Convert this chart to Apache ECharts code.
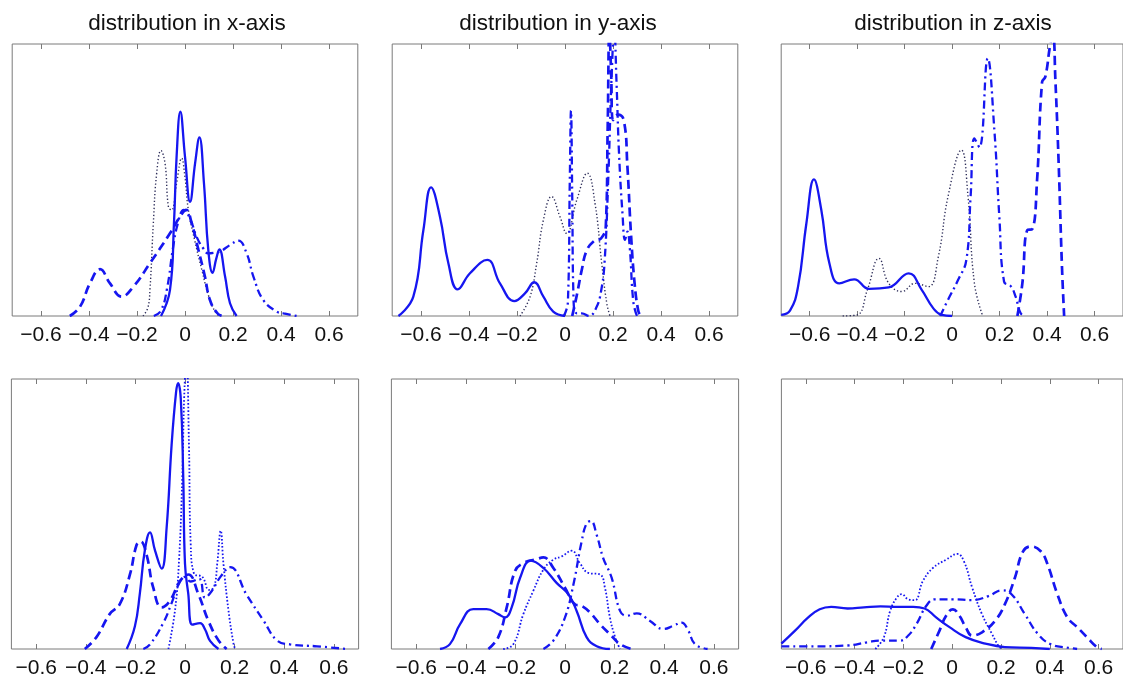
<!DOCTYPE html>
<html>
<head>
<meta charset="utf-8">
<script src="https://cdn.jsdelivr.net/npm/echarts@6/dist/echarts.min.js"></script>
<style>
html,body{margin:0;padding:0;background:#fff;}
#chart{width:1123px;height:679px;}
</style>
</head>
<body>
<div id="chart"></div>
<script>
// ---- data: [x, density (fraction of panel height)] ----
const titles = ['distribution in x-axis', 'distribution in y-axis', 'distribution in z-axis'];
const tickValues = [-0.6, -0.4, -0.2, 0, 0.2, 0.4, 0.6];

const p1Solid = [[-0.1,0],[-0.0625,0.096],[-0.046,0.34],[-0.035,0.586],[-0.0195,0.751],[0,0.586],[0.021,0.42],[0.042,0.561],[0.06,0.657],[0.079,0.488],[0.097,0.243],[0.115,0.159],[0.13,0.21],[0.143,0.245],[0.167,0.145],[0.1875,0.047],[0.215,0]];
const p1Dashed = [[-0.48,0],[-0.4375,0.034],[-0.396,0.12],[-0.354,0.172],[-0.3125,0.12],[-0.264,0.071],[-0.215,0.108],[-0.146,0.194],[-0.0625,0.304],[-0.021,0.365],[0.005,0.39],[0.028,0.34],[0.056,0.243],[0.083,0.145],[0.104,0.059],[0.135,0.01],[0.156,0]];
const p1Dotted = [[-0.175,0],[-0.155,0.03],[-0.146,0.096],[-0.132,0.34],[-0.118,0.525],[-0.1,0.608],[-0.083,0.56],[-0.069,0.40],[-0.056,0.39],[-0.035,0.488],[-0.014,0.58],[0,0.51],[0.014,0.39],[0.04,0.28],[0.07,0.17],[0.1,0.07],[0.13,0.01],[0.15,0]];
const p1DashDot = [[-0.13,0],[-0.1,0.02],[-0.075,0.1],[-0.05,0.25],[-0.03,0.34],[-0.005,0.39],[0.02,0.36],[0.049,0.29],[0.075,0.25],[0.097,0.23],[0.12,0.232],[0.146,0.237],[0.1875,0.261],[0.222,0.277],[0.257,0.23],[0.285,0.145],[0.326,0.059],[0.382,0.016],[0.41,0.01],[0.465,0]];

const p2Solid = [[-0.694,0],[-0.632,0.071],[-0.59,0.316],[-0.558,0.473],[-0.521,0.365],[-0.486,0.194],[-0.447,0.098],[-0.396,0.157],[-0.324,0.206],[-0.271,0.12],[-0.211,0.055],[-0.167,0.083],[-0.128,0.124],[-0.09,0.071],[-0.049,0.016],[0,0]];
const p2Dotted = [[-0.1875,0],[-0.146,0.07],[-0.118,0.194],[-0.09,0.353],[-0.056,0.439],[-0.021,0.365],[0.007,0.304],[0.049,0.426],[0.093,0.525],[0.125,0.414],[0.153,0.194],[0.174,0.047],[0.1875,0]];
const p2Dashed = [[0.03,0],[0.05,0.08],[0.07,0.17],[0.09,0.24],[0.12,0.275],[0.15,0.285],[0.17,0.33],[0.178,0.7],[0.185,1.05],[0.192,0.9],[0.2,0.72],[0.22,0.74],[0.245,0.72],[0.26,0.55],[0.275,0.3],[0.29,0.12],[0.305,0.02],[0.315,0]];
const p2DashDot = [[-0.005,0],[0.012,0.05],[0.02,0.5],[0.025,0.755],[0.03,0.45],[0.036,0.05],[0.05,0.01],[0.07,0.01],[0.1,0],[0.13,0.03],[0.15,0.09],[0.165,0.2],[0.18,0.5],[0.195,0.9],[0.205,1.05],[0.215,0.85],[0.225,0.6],[0.24,0.37],[0.25,0.28],[0.26,0.31],[0.27,0.25],[0.285,0.05],[0.3,0]];

const p3Solid = [[-0.72,0.004],[-0.683,0.02],[-0.649,0.108],[-0.614,0.34],[-0.582,0.502],[-0.551,0.39],[-0.517,0.194],[-0.475,0.12],[-0.4125,0.135],[-0.35,0.1],[-0.267,0.105],[-0.183,0.157],[-0.128,0.096],[-0.079,0.028],[-0.044,0.004],[0,0]];
const p3Dotted = [[-0.461,0],[-0.4,0.004],[-0.357,0.096],[-0.308,0.212],[-0.267,0.12],[-0.211,0.09],[-0.156,0.12],[-0.1,0.108],[-0.058,0.218],[-0.017,0.44],[0.039,0.61],[0.067,0.44],[0.094,0.12],[0.129,0]];
const p3DashDot = [[-0.05,0],[-0.017,0.06],[0.025,0.132],[0.06,0.206],[0.078,0.44],[0.094,0.653],[0.115,0.62],[0.15,0.947],[0.178,0.684],[0.199,0.365],[0.219,0.126],[0.247,0.11],[0.268,0.07],[0.289,0.01],[0.31,0]];
const p3Dashed = [[0.275,0],[0.296,0.12],[0.317,0.316],[0.3375,0.319],[0.358,0.5],[0.379,0.86],[0.393,0.88],[0.414,1.0],[0.425,1.03],[0.435,0.87],[0.449,0.56],[0.4625,0.19],[0.472,0]];

const p4Solid = [[-0.235,0],[-0.202,0.084],[-0.182,0.206],[-0.162,0.365],[-0.141,0.432],[-0.121,0.365],[-0.094,0.298],[-0.074,0.45],[-0.054,0.756],[-0.036,0.951],[-0.028,0.985],[-0.017,0.927],[-0.007,0.634],[0,0.316],[0.013,0.206],[0.03,0.09],[0.061,0.096],[0.081,0.072],[0.101,0.03],[0.135,0]];
const p4Dashed = [[-0.404,0],[-0.357,0.044],[-0.303,0.13],[-0.263,0.166],[-0.222,0.276],[-0.195,0.386],[-0.179,0.398],[-0.155,0.349],[-0.128,0.227],[-0.094,0.154],[-0.061,0.178],[-0.02,0.252],[0.013,0.276],[0.054,0.203],[0.094,0.105],[0.135,0.032],[0.168,0]];
const p4Dotted = [[-0.067,0],[-0.04,0.145],[-0.024,0.33],[-0.011,0.634],[-0.003,0.94],[0.006,1.08],[0.016,0.756],[0.023,0.39],[0.036,0.28],[0.07,0.267],[0.097,0.219],[0.117,0.23],[0.13,0.316],[0.144,0.438],[0.155,0.316],[0.175,0.145],[0.195,0.023],[0.202,0]];
const p4DashDot = [[-0.168,0],[-0.141,0.017],[-0.088,0.096],[-0.054,0.17],[-0.024,0.243],[0,0.267],[0.023,0.25],[0.057,0.26],[0.081,0.19],[0.108,0.215],[0.145,0.27],[0.182,0.303],[0.249,0.2],[0.317,0.105],[0.371,0.032],[0.424,0.017],[0.532,0.01],[0.653,0]];

const p5Solid = [[-0.504,0],[-0.464,0.018],[-0.423,0.092],[-0.37,0.148],[-0.316,0.148],[-0.269,0.129],[-0.242,0.117],[-0.215,0.154],[-0.181,0.264],[-0.138,0.327],[-0.087,0.3],[-0.034,0.245],[0.013,0.203],[0.047,0.141],[0.087,0.044],[0.128,0.01],[0.181,0]];
const p5Dashed = [[-0.309,0],[-0.269,0.044],[-0.235,0.154],[-0.202,0.288],[-0.168,0.318],[-0.114,0.333],[-0.087,0.339],[-0.047,0.3],[0,0.227],[0.04,0.166],[0.067,0.16],[0.101,0.135],[0.141,0.092],[0.181,0.055],[0.222,0.018],[0.269,0]];
const p5Dotted = [[-0.249,0],[-0.208,0.018],[-0.168,0.129],[-0.128,0.215],[-0.087,0.294],[-0.047,0.331],[-0.013,0.343],[0.027,0.364],[0.06,0.318],[0.094,0.282],[0.141,0.276],[0.161,0.227],[0.181,0.117],[0.202,0.044],[0.222,0]];
const p5DashDot = [[-0.087,0],[-0.047,0.031],[0,0.117],[0.034,0.239],[0.067,0.398],[0.087,0.465],[0.104,0.474],[0.128,0.422],[0.154,0.337],[0.188,0.264],[0.222,0.141],[0.249,0.123],[0.289,0.132],[0.343,0.104],[0.396,0.074],[0.437,0.086],[0.47,0.098],[0.497,0.068],[0.524,0.018],[0.575,0]];

const p6Solid = [[-0.7,0.02],[-0.644,0.068],[-0.59,0.117],[-0.543,0.147],[-0.496,0.156],[-0.429,0.15],[-0.362,0.154],[-0.294,0.158],[-0.227,0.156],[-0.16,0.156],[-0.113,0.15],[-0.066,0.117],[-0.011,0.081],[0.055,0.044],[0.136,0.02],[0.216,0.007],[0.324,0.004],[0.4,0]];
const p6DashDot = [[-0.7,0.01],[-0.56,0.01],[-0.429,0.013],[-0.348,0.025],[-0.294,0.031],[-0.214,0.031],[-0.18,0.05],[-0.146,0.093],[-0.106,0.16],[-0.072,0.184],[0.003,0.184],[0.082,0.181],[0.149,0.196],[0.203,0.217],[0.243,0.203],[0.297,0.13],[0.351,0.056],[0.405,0.017],[0.472,0.005],[0.512,0]];
const p6Dashed = [[-0.086,0],[-0.052,0.068],[-0.025,0.123],[0.003,0.147],[0.03,0.123],[0.055,0.081],[0.082,0.05],[0.122,0.062],[0.176,0.105],[0.216,0.166],[0.257,0.264],[0.29,0.361],[0.324,0.38],[0.364,0.361],[0.391,0.313],[0.431,0.203],[0.472,0.117],[0.512,0.081],[0.552,0.044],[0.593,0.007],[0.613,0]];
const p6Dotted = [[-0.315,0],[-0.28,0.044],[-0.254,0.142],[-0.227,0.19],[-0.207,0.203],[-0.18,0.184],[-0.153,0.181],[-0.12,0.252],[-0.079,0.3],[-0.025,0.331],[0.021,0.352],[0.048,0.325],[0.082,0.227],[0.122,0.129],[0.163,0.056],[0.189,0.013],[0.203,0]];

// ---- layout & styles ----
const BLUE = 'rgb(22,22,240)';
const styles = {
  solid:     {type: 'solid', width: 2.3, color: BLUE},
  dashed:    {type: [9, 5], width: 2.7, color: BLUE},
  dashdot:   {type: [8, 4, 2, 4], width: 2.3, color: BLUE},
  dottedDark:{type: [1.3, 2.2], width: 1.4, color: '#2e2e5a'},
  dotted:    {type: [1.6, 2.0], width: 1.8, color: BLUE}
};
const panels = [
  {grid: {left: 12.2, top: 44, width: 345.6, height: 272}, min: -0.72, max: 0.72,
   curves: [[p1Dotted,'dottedDark'],[p1Dashed,'dashed'],[p1DashDot,'dashdot'],[p1Solid,'solid']]},
  {grid: {left: 392.2, top: 44, width: 345.6, height: 272}, min: -0.72, max: 0.72,
   curves: [[p2Dotted,'dottedDark'],[p2Solid,'solid'],[p2DashDot,'dashdot'],[p2Dashed,'dashed']]},
  {grid: {left: 781.2, top: 44, width: 345.6, height: 272}, min: -0.72, max: 0.72,
   curves: [[p3Dotted,'dottedDark'],[p3Solid,'solid'],[p3DashDot,'dashdot'],[p3Dashed,'dashed']]},
  {grid: {left: 11.4, top: 379, width: 347.2, height: 273}, min: -0.7, max: 0.7,
   curves: [[p4Dotted,'dotted'],[p4Dashed,'dashed'],[p4DashDot,'dashdot'],[p4Solid,'solid']]},
  {grid: {left: 391.4, top: 379, width: 347.2, height: 273}, min: -0.7, max: 0.7,
   curves: [[p5Dotted,'dotted'],[p5Dashed,'dashed'],[p5DashDot,'dashdot'],[p5Solid,'solid']]},
  {grid: {left: 781.4, top: 379, width: 347.2, height: 273}, min: -0.7, max: 0.7,
   curves: [[p6Dotted,'dotted'],[p6Dashed,'dashed'],[p6DashDot,'dashdot'],[p6Solid,'solid']]}
];

const FONT = '"Liberation Sans", Arial, Helvetica, sans-serif';
const fmt = v => v === 0 ? '0' : (v < 0 ? '\u2212' + Math.abs(v).toFixed(1) : v.toFixed(1));

const grid = [], xAxis = [], yAxis = [], series = [];
panels.forEach((p, i) => {
  grid.push(Object.assign({show: true, borderColor: '#7a7a7a', borderWidth: 1, backgroundColor: '#fff'}, p.grid));
  xAxis.push({
    type: 'value', gridIndex: i, min: p.min, max: p.max, position: 'bottom',
    axisLine: {show: false}, splitLine: {show: false},
    axisTick: {show: true, inside: true, length: 5, customValues: tickValues, lineStyle: {color: '#7a7a7a'}},
    axisLabel: {show: true, customValues: tickValues, formatter: fmt, fontSize: 21, color: '#111', fontFamily: FONT, margin: 9,
                showMinLabel: true, showMaxLabel: true}
  });
  xAxis.push({
    type: 'value', gridIndex: i, min: p.min, max: p.max, position: 'top',
    axisLine: {show: false}, splitLine: {show: false},
    axisTick: {show: true, inside: true, length: 5, customValues: tickValues, lineStyle: {color: '#7a7a7a'}},
    axisLabel: {show: false}
  });
  yAxis.push({
    type: 'value', gridIndex: i, min: 0, max: 1,
    axisLine: {show: false}, axisTick: {show: false}, axisLabel: {show: false}, splitLine: {show: false}
  });
  p.curves.forEach(([data, st]) => {
    series.push({
      type: 'line', xAxisIndex: 2 * i, yAxisIndex: i, data: data,
      showSymbol: false, symbol: 'none', smooth: 0.45, clip: true,
      lineStyle: Object.assign({}, styles[st]), silent: true, animation: false
    });
  });
});

const titleCenters = [182, 553, 948];
const title = titles.map((t, i) => ({
  text: t, left: titleCenters[i], top: 7, textAlign: 'center',
  textStyle: {fontSize: 22.5, fontWeight: 'normal', color: '#111', fontFamily: FONT}
}));

const chart = echarts.init(document.getElementById('chart'), null, {renderer: 'canvas'});
chart.setOption({animation: false, title, grid, xAxis, yAxis, series});
</script>
</body>
</html>
